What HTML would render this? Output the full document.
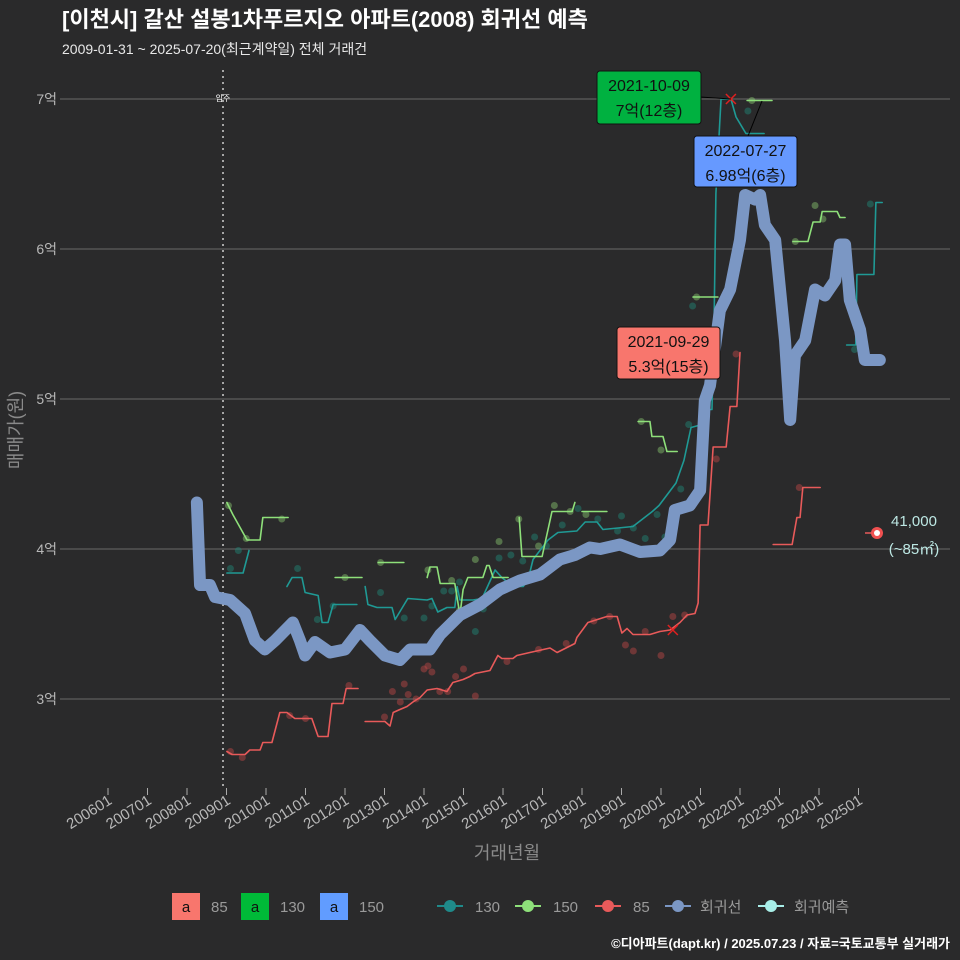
<!DOCTYPE html>
<html><head><meta charset="utf-8">
<style>
html,body{margin:0;padding:0;background:#2a2a2b;}
svg{display:block;font-family:"Liberation Sans","Noto Sans CJK KR",sans-serif;}
</style></head>
<body>
<svg id="chart" width="960" height="960" viewBox="0 0 960 960">
<rect x="0" y="0" width="960" height="960" fill="#2a2a2b"/>
<text x="62" y="27" fill="#ffffff" font-size="22" font-weight="bold">[이천시] 갈산 설봉1차푸르지오 아파트(2008) 회귀선 예측</text>
<text x="62" y="54" fill="#e8e8e8" font-size="14">2009-01-31 ~ 2025-07-20(최근계약일) 전체 거래건</text>
<g id="grid"></g>
<g id="yaxis"></g>
<g id="xaxis"></g>
<g id="points"></g>
<g id="lines"></g>
<g id="annot"></g>
<text x="22" y="430" fill="#8a8a8a" font-size="18" text-anchor="middle" transform="rotate(-90 22 430)">매매가(원)</text>
<text x="507" y="859" fill="#8a8a8a" font-size="18" text-anchor="middle">거래년월</text>
<g>
  <rect x="172" y="893" width="28" height="27" fill="#f8766d"/>
  <text x="186" y="912" fill="#111" font-size="15" text-anchor="middle">a</text>
  <text x="211" y="912" fill="#9a9a9a" font-size="15">85</text>
  <rect x="241" y="893" width="28" height="27" fill="#00ba38"/>
  <text x="255" y="912" fill="#111" font-size="15" text-anchor="middle">a</text>
  <text x="280" y="912" fill="#9a9a9a" font-size="15">130</text>
  <rect x="320" y="893" width="28" height="27" fill="#619cff"/>
  <text x="334" y="912" fill="#111" font-size="15" text-anchor="middle">a</text>
  <text x="359" y="912" fill="#9a9a9a" font-size="15">150</text>
  <g><line x1="437" y1="906" x2="463" y2="906" stroke="#1f8a8a" stroke-width="2"/><circle cx="450" cy="906" r="6" fill="#1f8a8a"/></g>
  <text x="475" y="912" fill="#9a9a9a" font-size="15">130</text>
  <g><line x1="515" y1="906" x2="541" y2="906" stroke="#8ee07a" stroke-width="2"/><circle cx="528" cy="906" r="6" fill="#8ee07a"/></g>
  <text x="553" y="912" fill="#9a9a9a" font-size="15">150</text>
  <g><line x1="595" y1="906" x2="621" y2="906" stroke="#e85a5a" stroke-width="2"/><circle cx="608" cy="906" r="6" fill="#e85a5a"/></g>
  <text x="633" y="912" fill="#9a9a9a" font-size="15">85</text>
  <g><line x1="665" y1="906" x2="691" y2="906" stroke="#7b97c4" stroke-width="2"/><circle cx="678" cy="906" r="6" fill="#7b97c4"/></g>
  <text x="700" y="912" fill="#9a9a9a" font-size="15">회귀선</text>
  <g><line x1="758" y1="906" x2="784" y2="906" stroke="#a8eee8" stroke-width="2"/><circle cx="771" cy="906" r="6" fill="#a8eee8"/></g>
  <text x="794" y="912" fill="#9a9a9a" font-size="15">회귀예측</text>
</g>
<text x="950" y="948" fill="#ffffff" font-size="13" font-weight="bold" text-anchor="end">©디아파트(dapt.kr) / 2025.07.23 / 자료=국토교통부 실거래가</text>
</svg>
<script>
// ---- data (dates as fractional years, values in 억) ----
const yTicks = [3,4,5,6,7];
const yTickLabels = ["3억","4억","5억","6억","7억"];
const xTicks = [2006,2007,2008,2009,2010,2011,2012,2013,2014,2015,2016,2017,2018,2019,2020,2021,2022,2023,2024,2025];
const xTickLabels = ["200601","200701","200801","200901","201001","201101","201201","201301","201401","201501","201601","201701","201801","201901","202001","202101","202201","202301","202401","202501"];

const regDates = [2008.25,2008.33,2008.58,2008.71,2009.09,2009.47,2009.72,2009.97,2010.23,2010.68,2010.86,2010.99,2011.24,2011.62,2012.0,2012.38,2012.63,2013.01,2013.39,2013.65,2014.15,2014.41,2014.91,2015.42,2015.92,2016.43,2016.94,2017.44,2017.82,2018.2,2018.46,2018.96,2019.47,2019.97,2020.23,2020.35,2020.73,2020.99,2021.11,2021.24,2021.49,2021.75,2022.0,2022.13,2022.38,2022.51,2022.63,2022.89,2023.14,2023.27,2023.39,2023.65,2023.9,2024.15,2024.41,2024.53,2024.66,2024.78,2025.04,2025.16,2025.54];
const regValues = [4.31,3.76,3.76,3.68,3.66,3.57,3.39,3.33,3.39,3.51,3.39,3.29,3.38,3.31,3.33,3.46,3.39,3.29,3.26,3.33,3.33,3.43,3.56,3.63,3.73,3.79,3.83,3.93,3.96,4.01,4.0,4.03,3.98,3.99,4.06,4.26,4.29,4.39,4.99,5.09,5.59,5.73,6.06,6.36,6.33,6.36,6.16,6.06,5.39,4.86,5.29,5.39,5.73,5.69,5.79,6.03,6.03,5.66,5.46,5.26,5.26];

const s130 = [
 [[2009.01,3.84],[2009.42,3.84],[2009.57,3.99]],
 [[2010.53,3.75],[2010.66,3.81],[2010.91,3.81],[2010.99,3.71],[2011.32,3.69],[2011.42,3.51],[2011.57,3.51],[2011.70,3.63],[2012.30,3.63]],
 [[2012.51,3.75],[2012.58,3.63],[2012.81,3.61],[2013.19,3.61],[2013.27,3.53],[2013.59,3.67],[2014.08,3.66],[2014.20,3.67],[2014.35,3.58],[2014.58,3.61],[2014.78,3.61],[2014.84,3.75],[2014.91,3.66],[2015.24,3.66],[2015.47,3.67],[2015.80,3.86],[2015.97,3.81],[2016.25,3.75],[2016.51,3.75],[2016.63,3.79],[2016.76,3.93],[2017.14,4.06],[2017.39,4.11],[2017.87,4.12],[2018.08,4.18],[2018.38,4.18],[2018.53,4.13],[2019.29,4.15],[2019.78,4.25],[2019.95,4.29],[2020.38,4.44],[2020.58,4.59],[2020.76,4.81],[2021.04,4.83],[2021.14,4.93],[2021.29,4.93],[2021.34,5.44],[2021.39,6.37],[2021.52,7.0],[2021.77,7.0],[2021.90,6.88],[2022.15,6.77],[2022.61,6.77]],
 [[2024.70,5.36],[2024.93,5.36],[2024.96,5.83],[2025.39,5.83],[2025.44,6.31],[2025.6,6.31]]
];
const s150 = [
 [[2009.01,4.31],[2009.16,4.23],[2009.52,4.06],[2009.85,4.06],[2009.92,4.21],[2010.56,4.21]],
 [[2011.75,3.81],[2012.43,3.81]],
 [[2012.84,3.91],[2013.49,3.91]],
 [[2014.08,3.81],[2014.15,3.88],[2014.33,3.88],[2014.41,3.77],[2014.78,3.77],[2014.91,3.56],[2014.99,3.73],[2015.11,3.81],[2015.49,3.81],[2015.59,3.89],[2015.65,3.89],[2015.75,3.81],[2016.13,3.81]],
 [[2016.41,4.21],[2016.48,3.95],[2016.99,3.95],[2017.24,4.25],[2017.75,4.25],[2017.82,4.31]],
 [[2018.0,4.25],[2018.63,4.25]],
 [[2019.42,4.85],[2019.72,4.85],[2019.77,4.75],[2020.05,4.75],[2020.15,4.65],[2020.41,4.65]],
 [[2020.81,5.68],[2021.44,5.68]],
 [[2022.18,6.99],[2022.81,6.99]],
 [[2023.34,6.05],[2023.72,6.05],[2023.85,6.18],[2024.03,6.18],[2024.08,6.25],[2024.46,6.25],[2024.53,6.21],[2024.66,6.21]]
];
const s85 = [
 [[2009.01,2.65],[2009.14,2.63],[2009.47,2.63],[2009.59,2.66],[2009.85,2.66],[2009.92,2.71],[2010.15,2.71],[2010.35,2.91],[2010.53,2.91],[2010.73,2.87],[2011.16,2.87],[2011.32,2.75],[2011.57,2.75],[2011.67,2.97],[2011.95,2.97],[2012.03,3.07],[2012.33,3.07]],
 [[2012.51,2.85],[2013.01,2.85],[2013.14,2.82],[2013.22,2.91],[2013.39,2.93],[2013.57,2.95],[2013.72,2.98],[2013.9,3.01],[2014.08,3.06],[2014.33,3.07],[2014.58,3.05],[2014.73,3.11],[2014.99,3.13],[2015.16,3.15],[2015.29,3.17],[2015.67,3.19],[2015.87,3.29],[2015.97,3.27],[2016.25,3.27],[2016.35,3.29],[2016.68,3.31],[2017.19,3.34],[2017.37,3.31],[2017.82,3.37],[2017.87,3.41],[2018.15,3.51],[2018.63,3.55],[2018.89,3.55],[2019.01,3.44],[2019.14,3.47],[2019.29,3.43],[2019.72,3.43],[2019.97,3.45],[2020.23,3.46],[2020.48,3.51],[2020.66,3.56],[2020.86,3.57],[2020.94,3.64],[2020.99,4.16],[2021.19,4.16],[2021.32,4.68],[2021.65,4.68],[2021.75,4.95],[2021.92,4.95],[2022.0,5.31]],
 [[2022.84,4.03],[2023.32,4.03],[2023.44,4.21],[2023.52,4.21],[2023.59,4.41],[2024.03,4.41]]
];
const pts130Dates = [2009.1,2009.3,2010.8,2011.3,2011.7,2012.9,2013.5,2014.0,2014.2,2014.5,2014.7,2014.9,2015.3,2015.5,2015.9,2016.2,2016.5,2016.8,2017.1,2017.5,2017.9,2018.4,2018.9,2019.0,2019.3,2019.6,2019.9,2020.1,2020.3,2020.5,2020.7,2020.8,2022.2,2024.9,2025.3];
const pts130Values = [3.87,3.99,3.87,3.53,3.62,3.71,3.54,3.54,3.62,3.72,3.72,3.78,3.45,3.60,3.94,3.96,3.92,4.08,4.02,4.16,4.27,4.20,4.12,4.22,4.14,4.07,4.23,4.08,4.18,4.40,4.83,5.62,6.92,5.33,6.30];
const pts150Dates = [2009.05,2009.5,2010.4,2012.0,2012.9,2014.1,2014.7,2014.9,2015.3,2015.9,2016.4,2016.9,2017.3,2017.7,2018.1,2019.5,2020.0,2020.9,2022.3,2023.4,2023.9,2024.1];
const pts150Values = [4.29,4.07,4.20,3.81,3.91,3.86,3.79,3.59,3.93,4.05,4.20,4.02,4.29,4.25,4.23,4.85,4.66,5.68,6.99,6.05,6.29,6.20];
const pts85Dates = [2009.1,2009.4,2010.6,2011.0,2012.1,2013.0,2013.2,2013.4,2013.5,2013.6,2013.8,2014.0,2014.1,2014.2,2014.4,2014.6,2014.8,2015.0,2015.3,2016.1,2016.9,2017.6,2018.3,2018.7,2019.1,2019.3,2019.6,2020.0,2020.3,2020.6,2021.4,2021.9,2023.5];
const pts85Values = [2.65,2.61,2.89,2.87,3.09,2.88,3.05,2.98,3.10,3.03,3.00,3.20,3.22,3.18,3.05,3.05,3.15,3.20,3.02,3.25,3.33,3.37,3.52,3.55,3.36,3.32,3.45,3.29,3.55,3.56,4.60,5.30,4.41];

// ---- scales ----
const X = d => 108 + (d - 2006) * 39.5;
const Y = v => 699 - (v - 3) * 150;
const NS = "http://www.w3.org/2000/svg";
function mk(tag, attrs, parent){const e=document.createElementNS(NS,tag);for(const k in attrs)e.setAttribute(k,attrs[k]);parent.appendChild(e);return e;}

const grid=document.getElementById('grid'), ya=document.getElementById('yaxis'), xa=document.getElementById('xaxis');
yTicks.forEach((v,i)=>{
  const l=mk('line',{x1:60,x2:950,y1:Y(v),y2:Y(v),stroke:'#6a6a6a','stroke-width':1},grid);
  
  
  const t=mk('text',{x:57,y:Y(v)+5,fill:'#b8b8b8','font-size':14,'text-anchor':'end'},ya);
  t.textContent=yTickLabels[i];
  
  
});
xTicks.forEach((d,i)=>{
  mk('line',{x1:X(d),x2:X(d),y1:788,y2:795,stroke:'#aaa','stroke-width':1},xa);
  const tx=X(d)+5, ty=803;
  const t=mk('text',{x:tx,y:ty,fill:'#b8b8b8','font-size':15,'text-anchor':'end',transform:`rotate(-32 ${tx} ${ty})`},xa);
  t.textContent=xTickLabels[i];
  
  
});
// move-in dotted line
const vl=mk('line',{x1:223,x2:223,y1:70,y2:790,stroke:'#cfcfcf','stroke-width':1.5,'stroke-dasharray':'2 4'},grid);


const vt=mk('text',{x:223,y:101,fill:'#fff','font-size':8,'text-anchor':'middle'},grid);
vt.textContent='입주';



const pg=document.getElementById('points');
function dots(ds,vs,col,name){ds.forEach((d,i)=>{const c=mk('circle',{cx:X(d),cy:Y(vs[i]),r:3.5,fill:col,'fill-opacity':0.45},pg);
  
  });}
dots(pts130Dates,pts130Values,'#1f8a7a','point-130');
dots(pts150Dates,pts150Values,'#8ac870','point-150');
dots(pts85Dates,pts85Values,'#c04848','point-85');

const lg=document.getElementById('lines');
function pl(pts,col,w,name){const p=mk('polyline',{points:pts.map(p=>X(p[0])+','+Y(p[1])).join(' '),fill:'none',stroke:col,'stroke-width':w,'stroke-linejoin':'round','stroke-linecap':'round'},lg);
  
  }
s130.forEach(s=>pl(s,'#1f9a95',1.6,'line-130'));
s150.forEach(s=>pl(s,'#8ee07a',1.6,'line-150'));
s85.forEach(s=>pl(s,'#e85a5a',1.6,'line-85'));
pl(regDates.map((d,i)=>[d,regValues[i]]),'#7b97c4',12,'regression-line');

// annotations
const an=document.getElementById('annot');
function xmark(x,y){mk('path',{d:`M${x-5},${y-5}L${x+5},${y+5}M${x-5},${y+5}L${x+5},${y-5}`,stroke:'#e02020','stroke-width':1.5},an);}
xmark(X(2021.77),Y(7.0)); xmark(X(2020.3),Y(3.46));
mk('line',{x1:700,y1:97,x2:X(2021.77),y2:Y(7.0),stroke:'#000','stroke-width':1},an);
mk('line',{x1:748,y1:136,x2:762,y2:101,stroke:'#000','stroke-width':1},an);
function box(x,y,w,h,bg,l1,l2,name){const g=mk('g',{},an);
  
  
  mk('rect',{x:x,y:y,width:w,height:h,rx:3,fill:bg,stroke:'#111','stroke-width':1},g);
  const a=mk('text',{x:x+w/2,y:y+20,fill:'#111','font-size':16,'text-anchor':'middle'},g);a.textContent=l1;
  const b=mk('text',{x:x+w/2,y:y+45,fill:'#111','font-size':16,'text-anchor':'middle'},g);b.textContent=l2;}
box(597,71,104,53,'#00b140','2021-10-09','7억(12층)','label-max-130');
box(694,136,103,51,'#6699ff','2022-07-27','6.98억(6층)','label-max-150');
box(617,327,103,52,'#f8766d','2021-09-29','5.3억(15층)','label-max-85');
const fc=mk('g',{},an);


mk('line',{x1:865,y1:533,x2:877,y2:533,stroke:'#e85a5a','stroke-width':1.5},fc);
mk('circle',{cx:877,cy:533,r:6,fill:'#f05050'},fc);
mk('circle',{cx:877,cy:533,r:3,fill:'#fff'},fc);
const f1=mk('text',{x:914,y:526,fill:'#bde8e4','font-size':15,'text-anchor':'middle'},fc);f1.textContent='41,000';
const f2=mk('text',{x:914,y:554,fill:'#bde8e4','font-size':15,'text-anchor':'middle'},fc);f2.textContent='(~85㎡)';
</script>
</body></html>
